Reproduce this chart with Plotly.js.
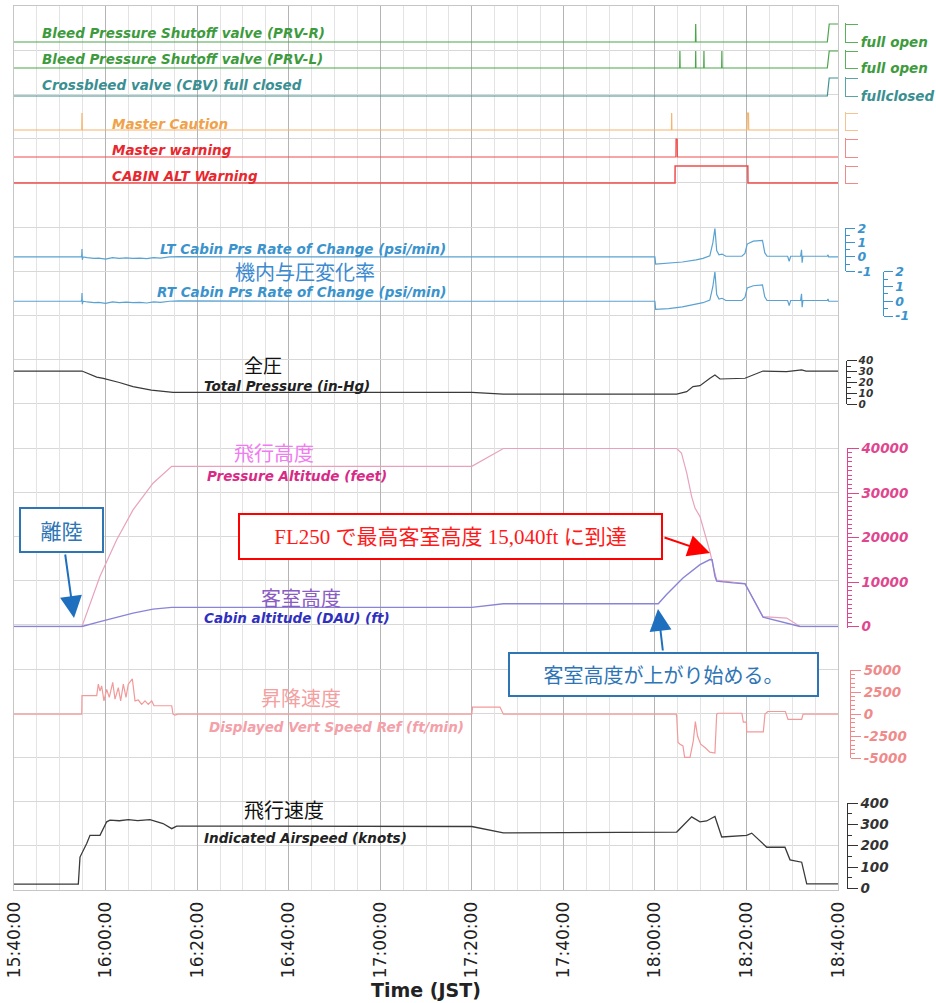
<!DOCTYPE html>
<html><head><meta charset="utf-8">
<script src="https://cdn.plot.ly/plotly-3.0.1.min.js"></script>
<style>html,body{margin:0;padding:0;background:#fff}</style>
</head><body>
<div id="chart" style="width:936px;height:1003px"></div>
<script>
const DAY = '2024-01-01 ';
// ---- discrete valve / warning series (0 = baseline, 1 = other state) ----
const prvR_t = ['15:40:00','18:08:51','18:08:55','18:08:59','18:37:40','18:38:05','18:40:00'];
const prvR_v = [0,0,1,0,0,1,1];
const prvL_t = ['15:40:00','18:05:25','18:05:28','18:05:31','18:08:52','18:08:55','18:08:58','18:10:40','18:10:43','18:10:46','18:14:35','18:14:38','18:14:41','18:37:40','18:38:05','18:40:00'];
const prvL_v = [0,0,1,0,0,1,0,0,1,0,0,1,0,0,1,1];
const cbv_t = ['15:40:00','18:37:40','18:38:05','18:40:00'];
const cbv_v = [0,0,1,1];
const caut_t = ['15:40:00','15:54:48','15:54:51','15:54:54','18:03:37','18:03:40','18:03:43','18:20:08','18:20:11','18:20:27','18:20:30','18:40:00'];
const caut_v = [0,0,1,0,0,1,0,0,1,1,0,0];
const warn_t = ['15:40:00','18:04:35','18:04:37','18:04:53','18:04:55','18:40:00'];
const warn_v = [0,0,1,1,0,0];
const cabw_t = ['15:40:00','18:04:24','18:04:25','18:20:18','18:20:20','18:40:00'];
const cabw_v = [0,0,1,1,0,0];
// ---- cabin pressure rate of change (psi/min) ----
const rate_t = ['15:40:00','15:54:42','15:54:48','15:54:51','15:54:56','15:55:05','15:56:00','15:57:30','15:58:30','16:00:00','16:01:30','16:03:00','16:04:30','16:06:00','16:07:30','16:09:00','16:10:30','16:12:00','16:14:00','16:16:00','16:40:00','17:00:00','18:00:00','18:00:10','18:03:00','18:06:00','18:09:00','18:10:30','18:12:00','18:12:40','18:13:07','18:13:30','18:14:00','18:14:40','18:15:30','18:19:00','18:19:40','18:20:10','18:21:30','18:23:30','18:24:00','18:24:30','18:29:00','18:29:20','18:29:40','18:31:50','18:32:02','18:32:10','18:32:20','18:37:40','18:37:49','18:37:58','18:40:00'];
const lt_v = [0,0,0.1,0.55,-0.2,0,-0.05,-0.1,-0.08,-0.15,-0.05,-0.1,-0.06,-0.1,-0.08,-0.12,-0.05,-0.08,0,0.02,0,0,0,-0.5,-0.45,-0.35,-0.2,-0.1,0.08,1.0,2.0,0.45,0.15,0.2,0.05,0.05,0.25,0.9,1.1,1.15,0.3,0.05,0.05,-0.3,0.05,0.05,0.5,-0.4,0.05,0.05,0.15,0,0];
const rt_v = [0,0,0.1,0.55,-0.2,0,-0.05,-0.1,-0.08,-0.15,-0.05,-0.1,-0.06,-0.1,-0.08,-0.12,-0.05,-0.08,0,0.02,0,0,0,-0.55,-0.5,-0.38,-0.22,-0.1,0.08,1.0,2.0,0.45,0.15,0.2,0.05,0.05,0.25,0.9,1.05,1.1,0.3,0.05,0.05,-0.3,0.05,0.05,0.5,-0.4,0.05,0.05,0.15,0,0];
// ---- total pressure (in-Hg) ----
const tp_t = ['15:40:00','15:54:51','15:58:04','15:59:30','16:03:00','16:06:00','16:10:00','16:14:44','17:20:00','17:26:54','18:04:46','18:06:57','18:08:19','18:09:51','18:12:02','18:13:07','18:14:13','18:19:41','18:23:37','18:28:47','18:32:04','18:33:00','18:40:00'];
const tp_v = [30.5,30.5,25,23.8,20,16.2,13,11,11,9.3,9.3,11.6,16.2,17.1,23.9,26.9,23.2,23.9,30.5,30,31.6,30.5,30.5];
// ---- pressure altitude & cabin altitude (ft) ----
const alt_t = ['15:40:00','15:54:51','15:58:47','16:00:49','16:02:26','16:06:00','16:10:22','16:14:27','17:20:00','17:26:54','18:04:46','18:05:48','18:06:57','18:08:02','18:08:46','18:09:51','18:10:57','18:12:02','18:12:46','18:13:30','18:15:17','18:19:41','18:23:37','18:28:47','18:31:42','18:40:00'];
const alt_v = [0,0,11300,16000,19500,26200,32200,36000,36000,40000,40000,39000,34500,29200,26600,24700,20900,16800,13400,10400,10200,9600,2200,1900,0,0];
const cab_t = ['15:40:00','15:54:51','15:58:47','16:06:00','16:10:22','16:14:27','17:20:00','17:26:54','18:00:44','18:02:33','18:06:08','18:09:51','18:12:02','18:12:30','18:13:07','18:13:30','18:17:03','18:19:41','18:23:37','18:28:47','18:31:42','18:40:00'];
const cab_v = [0,0,1100,3000,3900,4300,4300,5100,5100,7200,10900,13900,15040,15000,11300,10200,9800,9600,2100,700,0,0];
// ---- displayed vertical speed ref (ft/min) ----
const vs_t = ['15:40:00','15:54:48','15:54:51','15:58:04','15:58:25','15:58:47','15:59:09','15:59:39','16:00:15','16:00:49','16:01:34','16:02:04','16:02:47','16:03:18','16:03:53','16:04:28','16:04:58','16:05:51','16:06:26','16:07:09','16:07:54','16:08:37','16:09:20','16:10:05','16:10:35','16:14:27','16:14:44','16:15:10','16:15:49','17:20:00','17:20:10','17:26:10','17:26:54','18:04:40','18:04:46','18:05:03','18:05:30','18:06:08','18:06:30','18:07:40','18:08:24','18:08:50','18:09:20','18:10:00','18:11:00','18:12:00','18:13:07','18:13:30','18:13:47','18:19:00','18:19:19','18:20:00','18:20:03','18:23:41','18:24:03','18:24:40','18:28:30','18:28:40','18:29:05','18:32:04','18:32:22','18:40:00'];
const vs_v = [0,0,2100,2100,3400,2600,3200,1500,2800,1900,3600,1700,3000,1500,3400,1900,3400,4000,1500,1600,1100,1500,1100,1500,950,950,0,-100,0,0,800,800,0,0,-300,-3200,-3400,-3600,-4900,-4900,-3000,-850,-2500,-3400,-3800,-4300,-4400,0,100,100,-900,-900,-2000,-2000,0,300,300,0,-600,-600,0,0];
// ---- indicated airspeed (knots) ----
const ias_t = ['15:40:00','15:54:03','15:54:25','15:55:53','15:56:36','15:58:47','16:00:15','16:00:58','16:03:00','16:05:00','16:07:00','16:09:42','16:12:33','16:14:27','16:15:32','17:20:00','17:26:54','18:04:46','18:08:02','18:09:51','18:11:18','18:13:07','18:14:36','18:20:03','18:21:09','18:24:26','18:28:25','18:29:31','18:32:04','18:33:10','18:40:00'];
const ias_v = [20,20,147,210,249,249,312,320,317,322,318,322,304,280,292,290,260,264,335,312,316,337,241,249,259,193,193,134,123,22,22];

// ---------------- layout helpers ----------------
const L = 14, R = 6, T = 6, B = 113;
const PW = 936 - L - R, PH = 1003 - T - B, YB = T + PH;
const px2x = p => (p - L) / PW;
const py2y = p => (YB - p) / PH;
const F = 'DejaVu Sans';
function freeAxis(p0, p1, r0, r1, pad, xpos, color, tickvals, ticktext, ticklen, minorDt, fsize) {
  const k = (r1 - r0) / (p0 - p1);
  const ax = {
    domain: [py2y(p0 + pad), py2y(p1 - pad)],
    range: [r0 - pad * k, r1 + pad * k],
    anchor: 'free', position: px2x(xpos), side: 'right',
    showgrid: false, zeroline: false, showline: true, linecolor: color, linewidth: 1,
    ticks: 'outside', ticklen: ticklen, tickcolor: color, tickwidth: 1,
    tickmode: 'array', tickvals: tickvals, ticktext: ticktext,
    tickfont: {family: F, size: fsize || 13.5, color: color, weight: 'bold', style: 'italic'},
    fixedrange: true
  };
  if (minorDt) ax.minor = {tickmode: 'linear', tick0: r0, dtick: minorDt, ticks: 'outside', ticklen: 4, tickcolor: color, showgrid: false};
  return ax;
}
const D = a => a.map(t => DAY + t);
function tr(t, v, yax, color, w) {
  return {x: D(t), y: v, yaxis: yax, xaxis: 'x', type: 'scatter', mode: 'lines',
          line: {color: color, width: w || 1.2}, hoverinfo: 'skip', showlegend: false};
}
const data = [
  {x: [], y: [], xaxis: 'x', yaxis: 'y', type: 'scatter', showlegend: false},
  tr(prvR_t, prvR_v, 'y2', '#4aa54a'),
  tr(prvL_t, prvL_v, 'y3', '#4aa54a'),
  tr(cbv_t, cbv_v, 'y4', '#3f9290'),
  tr(caut_t, caut_v, 'y5', '#f5b56e'),
  tr(warn_t, warn_v, 'y6', '#ef4d4d'),
  tr(cabw_t, cabw_v, 'y7', '#ef4d4d', 1.5),
  tr(rate_t, lt_v, 'y8', '#5aa2d2'),
  tr(rate_t, rt_v, 'y9', '#5aa2d2'),
  tr(tp_t, tp_v, 'y10', '#3a3a3a'),
  tr(alt_t, alt_v, 'y11', '#e8a2bd'),
  tr(cab_t, cab_v, 'y11', '#8a84d8', 1.4),
  tr(vs_t, vs_v, 'y12', '#f29a9a'),
  tr(ias_t, ias_v, 'y13', '#3a3a3a', 1.3)
];

const xEnd = px2x(838);
const green = '#3d9b3d', teal = '#3a8f92', orange = '#f0a24a', red = '#e8282e', blue = '#3a93cc';
const layout = {
  width: 936, height: 1003,
  margin: {l: L, r: R, t: T, b: B, pad: 0},
  paper_bgcolor: '#ffffff', plot_bgcolor: 'rgba(0,0,0,0)',
  showlegend: false,
  xaxis: {
    type: 'date', domain: [0, xEnd], anchor: 'y',
    range: [DAY + '15:40:00', DAY + '18:40:00'],
    tickmode: 'linear', tick0: DAY + '15:40:00', dtick: 1200000,
    tickformat: '%H:%M:%S', tickangle: -90, ticklabelstandoff: 4,
    tickfont: {family: F, size: 17, color: '#222'},
    showgrid: true, gridcolor: '#b4b4b4', gridwidth: 1,
    minor: {tickmode: 'linear', tick0: DAY + '15:40:00', dtick: 300000, showgrid: true, gridcolor: '#e3e3e3', gridwidth: 1},
    showline: true, mirror: true, linecolor: '#c6c6c6', linewidth: 1,
    zeroline: false, fixedrange: true,
    title: {text: 'Time (JST)', font: {family: F, size: 19, color: '#222', weight: 'bold'}, standoff: 6}
  },
  yaxis: {
    domain: [0, 1], range: [0, 20], tickmode: 'linear', tick0: 0, dtick: 1,
    showgrid: true, gridcolor: '#d8d8d8', showticklabels: false, ticks: '',
    showline: true, mirror: true, linecolor: '#c6c6c6', zeroline: false, fixedrange: true
  },
  yaxis2: freeAxis(42, 24, 0, 1, 1, 845, '#5bb05b', [0, 1], ['full open', ''], 12),
  yaxis3: freeAxis(68, 51, 0, 1, 1, 845, '#5bb05b', [0, 1], ['full open', ''], 12),
  yaxis4: freeAxis(96, 78, 0, 1, 1, 845, '#5aa4a4', [0, 1], ['fullclosed', ''], 12),
  yaxis5: freeAxis(130, 113, 0, 1, 1, 845, '#f6c290', [0, 1], ['', ''], 12),
  yaxis6: freeAxis(157, 139, 0, 1, 1, 845, '#f08a8a', [0, 1], ['', ''], 12),
  yaxis7: freeAxis(183, 166, 0, 1, 1, 845, '#f08a8a', [0, 1], ['', ''], 12),
  yaxis8: freeAxis(271.3, 228.3, -1, 2, 0, 845, blue, [-1, 0, 1, 2], ['-1', '0', '1', '2'], 9, 0.5, 12.5),
  yaxis9: freeAxis(316, 271.7, -1, 2, 0, 882.7, blue, [-1, 0, 1, 2], ['-1', '0', '1', '2'], 9, 0.5, 12.5),
  yaxis10: freeAxis(404.3, 360.7, 0, 40, 0, 845.5, '#333', [0, 10, 20, 30, 40], ['0', '10', '20', '30', '40'], 10, 5, 10.5),
  yaxis11: freeAxis(626.5, 448.5, 0, 40000, 1, 846.7, '#e0468e', [0, 10000, 20000, 30000, 40000], ['0', '10000', '20000', '30000', '40000'], 11, 1000),
  yaxis12: freeAxis(758.3, 670, -5000, 5000, 0, 850, '#f08a8a', [-5000, -2500, 0, 2500, 5000], ['-5000', '-2500', '0', '2500', '5000'], 10, 500),
  yaxis13: freeAxis(888.5, 803, 0, 400, 0, 846.7, '#333', [0, 100, 200, 300, 400], ['0', '100', '200', '300', '400'], 10, 50),
  annotations: []
};
// colour of the discrete labels
layout.yaxis2.tickfont.color = green;
layout.yaxis3.tickfont.color = green;
layout.yaxis4.tickfont.color = teal;

const ann = layout.annotations;
function lab(text, px, py, color, anchor, font) {
  ann.push({text: text, xref: 'paper', yref: 'paper', x: px2x(px), y: py2y(py),
    xanchor: anchor || 'left', yanchor: 'middle', showarrow: false,
    font: font || {family: F, size: 13.5, color: color, weight: 'bold', style: 'italic'}});
}
lab('Bleed Pressure Shutoff valve (PRV-R)', 40, 33, green);
lab('Bleed Pressure Shutoff valve (PRV-L)', 40, 59, green);
lab('Crossbleed valve (CBV) full closed', 40, 85, teal);
lab('Master Caution', 110, 124, orange);
lab('Master warning', 110, 150, red);
lab('CABIN ALT Warning', 110, 176, red);
lab('LT Cabin Prs Rate of Change (psi/min)', 158, 249, blue);
lab('RT Cabin Prs Rate of Change (psi/min)', 155, 292, blue);
lab('Total Pressure (in-Hg)', 202, 386, '#222');
lab('Pressure Altitude (feet)', 205, 476, '#d82a86');
lab('Cabin altitude (DAU) (ft)', 202, 618, '#3030c0');
lab('Displayed Vert Speed Ref (ft/min)', 207, 727, '#f4a0a8');
lab('Indicated Airspeed (knots)', 202, 838, '#222');
const JP = 'Noto Sans CJK JP';
const jf = (c, s) => ({family: JP, size: s || 20, color: c});
lab('機内与圧変化率', 305, 271, null, 'center', jf('#3a8ad2'));
lab('全圧', 263, 364, null, 'center', jf('#111', 19));
lab('飛行高度', 274, 452, null, 'center', jf('#f07cf0'));
lab('客室高度', 301, 597, null, 'center', jf('#8a5cc4'));
lab('昇降速度', 301, 697, null, 'center', jf('#f4a0a0'));
lab('飛行速度', 284, 809, null, 'center', jf('#111'));

function box(text, x0, y0, x1, y1, color, font) {
  ann.push({text: text, xref: 'paper', yref: 'paper', x: px2x((x0 + x1) / 2), y: py2y((y0 + y1) / 2),
    xanchor: 'center', yanchor: 'middle', showarrow: false,
    width: x1 - x0 - 4, height: y1 - y0 - 4, borderpad: 0, borderwidth: 2,
    bordercolor: color, bgcolor: '#ffffff', align: 'center', valign: 'middle', font: font});
}
function arrow(tipX, tipY, tailX, tailY, color) {
  ann.push({text: '', xref: 'paper', yref: 'paper', x: px2x(tipX), y: py2y(tipY),
    ax: tailX - tipX, ay: tailY - tipY, showarrow: true, arrowhead: 2, arrowsize: 2.2,
    arrowwidth: 2, arrowcolor: color, standoff: 0, startstandoff: 0});
}
arrow(74, 618, 65, 553, '#1f6fbf');
arrow(710, 553, 663, 537, '#ff0000');
arrow(658, 609, 663, 652, '#1f6fbf');
box('離陸', 19, 507, 104, 553, '#2e75b6', {family: JP, size: 21, color: '#2e75b6'});
box('FL250 で最高客室高度 15,040ft に到達', 238, 513, 663, 560, '#ff0000', {family: 'Liberation Serif, ' + JP, size: 21, color: '#ff1a1a'});
box('客室高度が上がり始める。', 508, 652, 819, 697, '#2e75b6', {family: JP, size: 20, color: '#2e75b6'});

Plotly.newPlot('chart', data, layout, {staticPlot: true, displayModeBar: false});
</script>
</body></html>
